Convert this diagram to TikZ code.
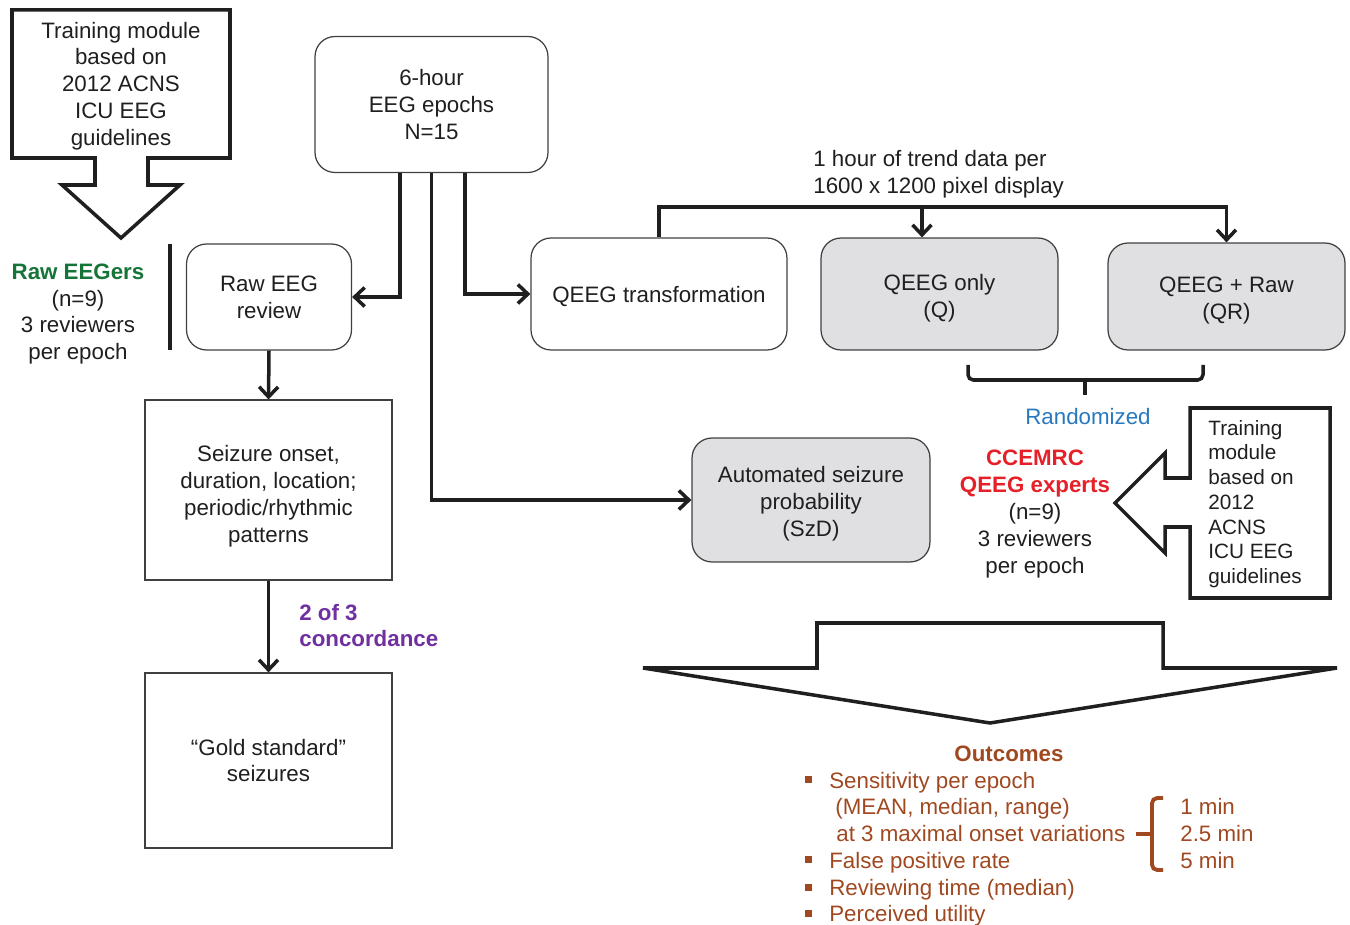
\documentclass[tikz,border=0pt]{standalone}
\usepackage{fontspec}
\setmainfont{Liberation Sans}
\usetikzlibrary{arrows.meta, positioning, calc}
\definecolor{rawgreen}{RGB}{22,116,56}
\definecolor{expred}{RGB}{230,32,40}
\definecolor{randblue}{RGB}{40,120,192}
\definecolor{concpurple}{RGB}{112,48,160}
\definecolor{outbrown}{RGB}{160,72,32}
\definecolor{boxgray}{RGB}{224,224,226}

\begin{document}
\begin{tikzpicture}[x=0.02cm, y=-0.02cm,
	every node/.style={font=\fontsize{12.7}{15.3}\selectfont, text=black!88, execute at begin node={\rule{0pt}{12pt}}},
	rbox/.style={draw=black!75, line width=0.7pt, rounded corners=0.4cm, align=center},
	sbox/.style={draw=black!75, line width=0.7pt, align=center},
	lbl/.style={inner sep=0pt, align=left},
	arr/.style={-{Straight Barb[length=2mm, width=3.8mm]}, line width=2pt, black!88},
	blk/.style={line width=2pt, black!88}]
	\useasboundingbox (0,0) rectangle (1350,925);

	% training module (top left)
	\draw[blk] (12,10) -- (230,10) -- (230,158) -- (148,158) -- (148,185) -- (180,185) -- (121,238) -- (62,185) -- (95,185) -- (95,158) -- (12,158) -- cycle;
	\node[align=center] (train) at (121,86) {Training module\\based on\\2012 ACNS\\ICU EEG\\guidelines};

	% boxes
	\node[rbox, minimum width=4.66cm, minimum height=2.72cm] (epochs) at (431.5,104.5) {6-hour\\EEG epochs\\N=15};
	\node[rbox, minimum width=3.3cm, minimum height=2.12cm] (raweeg) at (269,297) {Raw EEG\\review};
	\node[rbox, minimum width=5.12cm, minimum height=2.24cm] (qeegt) at (659,294) {QEEG transformation};
	\node[rbox, text height=29pt, fill=boxgray, minimum width=4.74cm, minimum height=2.24cm] (qonly) at (939.5,294) {QEEG only\\(Q)};
	\node[rbox, text height=29pt, fill=boxgray, minimum width=4.74cm, minimum height=2.14cm] (qraw) at (1226.5,296.5) {QEEG + Raw\\(QR)};
	\node[rbox, text height=44.3pt, fill=boxgray, minimum width=4.76cm, minimum height=2.48cm] (szd) at (811,500) {Automated seizure\\probability\\(SzD)};
	\node[sbox, text height=62pt, minimum width=4.94cm, minimum height=3.6cm] (onset) at (268.5,490) {Seizure onset,\\duration, location;\\periodic/rhythmic\\patterns};
	\node[sbox, minimum width=4.94cm, minimum height=3.5cm] (gold) at (268.5,760.5) {“Gold standard”\\seizures};

	% reviewers
	\draw[blk] (170,244) -- (170,350);
	\node[align=center] (rawers) at (78,314) {\textbf{\color{rawgreen}Raw EEGers}\\(n=9)\\3 reviewers\\per epoch};
	\node[align=center] (experts) at (1035,514) {\textbf{\color{expred}CCEMRC}\\\textbf{\color{expred}QEEG experts}\\(n=9)\\3 reviewers\\per epoch};

	% connectors
	\draw[arr] ([xshift=-0.63cm]epochs.south) |- (raweeg.east);
	\draw[arr] ([xshift=0.67cm]epochs.south) |- (qeegt.west);
	\draw[arr] (epochs.south) |- (szd.west);
	\draw[arr] (raweeg.south) -- (onset.north);
	\draw[arr] (onset.south) -- (gold.north);
	\node[lbl, text=concpurple, font=\fontsize{12.7}{15.3}\selectfont\bfseries, anchor=west] (concord) at (299,625.5) {2 of 3\\concordance};

	\coordinate (bus) at (659,207);
	\coordinate (qtap) at (922,207);
	\draw[arr] (qeegt.north) -- (bus) -| (qraw.north);
	\draw[arr] (qtap) -- (qtap |- qonly.north);
	\node[lbl, anchor=west] (trend) at (813,174.5) {1 hour of trend data per\\1600 x 1200 pixel display};

	% randomized bracket
	\draw[blk, rounded corners=3pt] (968,365) -- (968,380) -- (1203,380) -- (1203,365);
	\draw[blk] (1085,380) -- (1085,395);
	\node[text=randblue] (rand) at (1088,414) {Randomized};

	% training module (right)
	\draw[blk] (1190,408) -- (1330,408) -- (1330,598) -- (1190,598) -- (1190,527) -- (1165,527) -- (1165,553) -- (1115,503) -- (1165,453) -- (1165,478) -- (1190,478) -- cycle;
	\node[lbl, anchor=west, font=\fontsize{11.8}{14.1}\selectfont] (train2) at (1208,504) {Training\\module\\based on\\2012\\ACNS\\ICU EEG\\guidelines};

	% outcomes arrow
	\draw[blk] (817,623) -- (1163,623) -- (1163,668) -- (1337,668) -- (990,723) -- (643,668) -- (817,668) -- cycle;
	\node[text=outbrown, font=\fontsize{12.7}{15.3}\selectfont\bfseries] (outc) at (1009,751) {Outcomes};
	\begin{scope}[every node/.append style={lbl, anchor=west, text=outbrown, text height=12pt, text depth=2.5pt}]
		\node (o1) at (829,780) {Sensitivity per epoch};
		\node (o2) at (835,806) {(MEAN, median, range)};
		\node (o3) at (836,833) {at 3 maximal onset variations};
		\node (o4) at (829,860) {False positive rate};
		\node (o5) at (829,887) {Reviewing time (median)};
		\node (o6) at (829,913) {Perceived utility};
		\node (m1) at (1180,806) {1 min};
		\node (m2) at (1180,833) {2.5 min};
		\node (m3) at (1180,860) {5 min};
	\end{scope}
	\foreach \y in {780,860,887,913}
		\fill[outbrown] (804.5,\y-3.5) rectangle (811.5,\y+3.5);
	\draw[outbrown, line width=2.2pt, rounded corners=3pt] (1163,798) -- (1152,798) -- (1152,870) -- (1163,870);
	\draw[outbrown, line width=2.2pt] (1136,834) -- (1152,834);
\end{tikzpicture}
\end{document}
